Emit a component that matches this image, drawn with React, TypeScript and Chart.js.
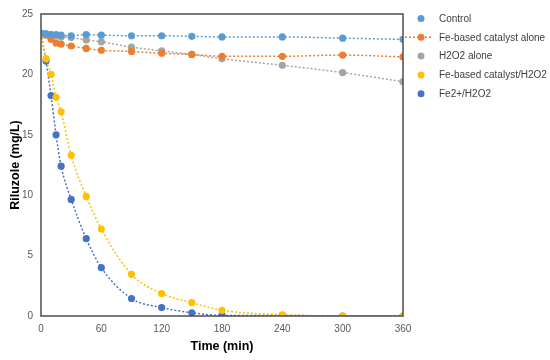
import React, { useEffect, useRef } from "react";
import { Chart, registerables } from "chart.js";

Chart.register(...registerables);

const timeMin = [0, 5, 10, 15, 20, 30, 45, 60, 90, 120, 150, 180, 240, 300, 360];
const seriesLabels = [
  "Control",
  "Fe-based catalyst alone",
  "H2O2 alone",
  "Fe-based catalyst/H2O2",
  "Fe2+/H2O2",
];
const control = [23.4, 23.35, 23.3, 23.3, 23.25, 23.2, 23.3, 23.25, 23.2, 23.2, 23.15, 23.1, 23.1, 23.0, 22.9];
const feAlone = [23.4, 23.25, 22.9, 22.6, 22.5, 22.35, 22.15, 22.0, 21.9, 21.75, 21.65, 21.5, 21.5, 21.6, 21.45];
const h2o2Alone = [23.4, 23.35, 23.3, 23.2, 23.1, 23.05, 22.85, 22.7, 22.25, 21.95, 21.65, 21.3, 20.75, 20.15, 19.4];
const feCatH2o2 = [23.4, 21.3, 20.0, 18.1, 16.9, 13.3, 9.9, 7.2, 3.45, 1.86, 1.1, 0.47, 0.1, 0.0, 0.0];
const fe2H2o2 = [23.4, 21.1, 18.25, 15.0, 12.4, 9.65, 6.4, 4.0, 1.45, 0.7, 0.27, 0.05, 0.05, 0.0, 0.0];
const colors = ["#5B9BD5", "#ED7D31", "#A5A5A5", "#FFC000", "#4472C4"];
const xTicks = [0, 60, 120, 180, 240, 300, 360];
const yTicks = [0, 5, 10, 15, 20, 25];

const FONT = "'Liberation Sans', Arial, sans-serif";

const framePlugin = {
  id: "frame",
  afterDatasetsDraw(chart: any) {
    const { ctx, chartArea } = chart;
    ctx.save();
    ctx.strokeStyle = "#4d4d4d";
    ctx.lineWidth = 1.5;
    ctx.strokeRect(chartArea.left, chartArea.top, chartArea.right - chartArea.left, chartArea.bottom - chartArea.top);
    ctx.restore();
  },
};

const legendPlugin = {
  id: "customLegend",
  afterDraw(chart: any) {
    const { ctx } = chart;
    ctx.save();
    ctx.font = `10px ${FONT}`;
    ctx.textBaseline = "middle";
    ctx.textAlign = "left";
    chart.data.datasets.forEach((ds: any, i: number) => {
      const y = 18.5 + i * 18.8;
      if (i === 1) {
        ctx.strokeStyle = ds.borderColor;
        ctx.lineWidth = 1.5;
        ctx.setLineDash([2, 2]);
        ctx.beginPath();
        ctx.moveTo(405, y);
        ctx.lineTo(433, y);
        ctx.stroke();
        ctx.setLineDash([]);
      }
      ctx.fillStyle = ds.pointBackgroundColor;
      ctx.beginPath();
      ctx.arc(421, y, 3.5, 0, Math.PI * 2);
      ctx.fill();
      ctx.fillStyle = "#404040";
      ctx.fillText(ds.label, 439, y + 0.5);
    });
    ctx.restore();
  },
};

export default function App() {
  const ref = useRef<HTMLCanvasElement | null>(null);
  useEffect(() => {
    if (!ref.current) return;
    const all = [control, feAlone, h2o2Alone, feCatH2o2, fe2H2o2];
    const chart = new Chart(ref.current, {
      type: "line",
      data: {
        datasets: all.map((vals, i) => ({
          label: seriesLabels[i],
          data: timeMin.map((t, j) => ({ x: t, y: vals[j] })),
          borderColor: colors[i],
          backgroundColor: colors[i],
          pointBackgroundColor: colors[i],
          pointBorderWidth: 0,
          pointRadius: 3.6,
          borderWidth: 1.5,
          borderDash: [2, 2],
          cubicInterpolationMode: "monotone",
          fill: false,
        })),
      },
      options: {
        animation: false,
        responsive: false,
        devicePixelRatio: 1,
        layout: { padding: { top: 11, right: 147, left: 0, bottom: 0 } },
        plugins: { legend: { display: false }, tooltip: { enabled: false } },
        scales: {
          x: {
            type: "linear",
            min: 0,
            max: 360,
            afterBuildTicks: (s: any) => {
              s.ticks = xTicks.map((v) => ({ value: v }));
            },
            afterFit: (s: any) => {
              s.height = 44;
            },
            grid: { display: false, drawTicks: false },
            border: { display: false },
            ticks: { font: { family: FONT, size: 10 }, color: "#595959", padding: 7, maxRotation: 0 },
            title: {
              display: true,
              text: "Time (min)",
              font: { family: FONT, size: 12.5, weight: "bold" },
              color: "#000",
              padding: { top: 0, bottom: 6 },
            },
          },
          y: {
            type: "linear",
            min: 0,
            max: 25,
            afterBuildTicks: (s: any) => {
              s.ticks = yTicks.map((v) => ({ value: v }));
            },
            afterFit: (s: any) => {
              s.width = 41;
            },
            grid: { display: false, drawTicks: false },
            border: { display: false },
            ticks: { font: { family: FONT, size: 10 }, color: "#595959", padding: 8 },
            title: {
              display: true,
              text: "Riluzole (mg/L)",
              font: { family: FONT, size: 12.5, weight: "bold" },
              color: "#000",
              padding: { top: 8, bottom: 0 },
            },
          },
        },
      },
      plugins: [framePlugin, legendPlugin],
    } as any);
    return () => chart.destroy();
  }, []);
  return (
    <div style={{ position: "fixed", left: 0, top: 0, width: 550, height: 360, background: "#fff" }}>
      <canvas ref={ref} width={550} height={360} style={{ display: "block" }} />
    </div>
  );
}
